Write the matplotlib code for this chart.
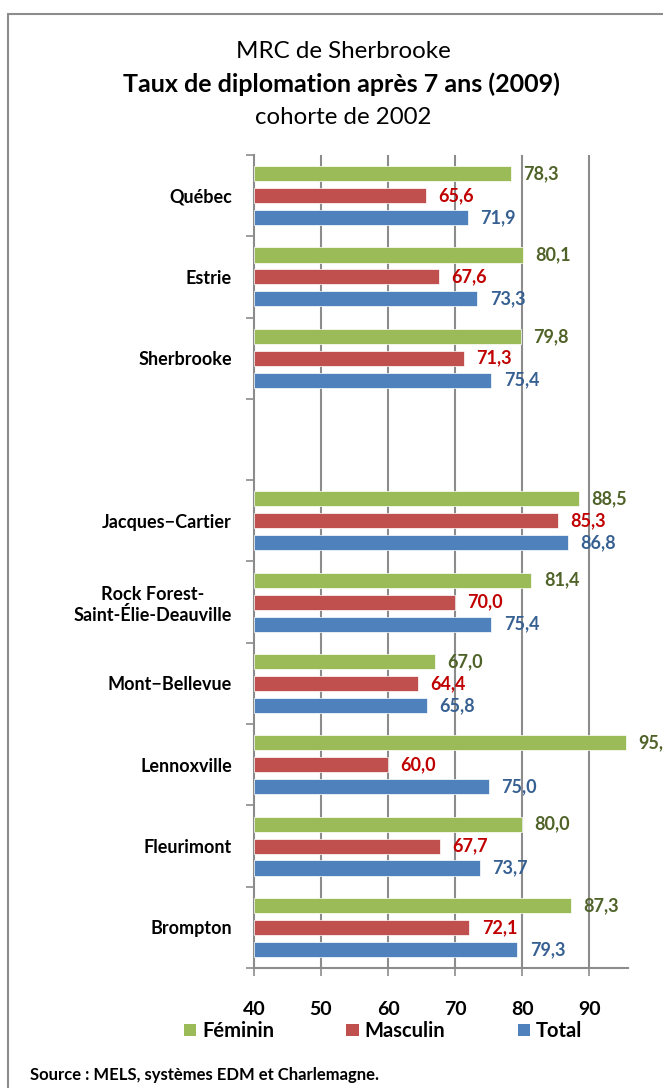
import matplotlib
matplotlib.use("Agg")
import matplotlib.pyplot as plt
from matplotlib.patches import Rectangle, Patch
import numpy as np

plt.rcParams['font.family'] = ['Lato', 'DejaVu Sans']

categories = ["Québec", "Estrie", "Sherbrooke", "",
              "Jacques−Cartier", "Rock Forest-\nSaint-Élie-Deauville",
              "Mont−Bellevue", "Lennoxville", "Fleurimont", "Brompton"]
feminin  = [78.3, 80.1, 79.8, None, 88.5, 81.4, 67.0, 95.5, 80.0, 87.3]
masculin = [65.6, 67.6, 71.3, None, 85.3, 70.0, 64.4, 60.0, 67.7, 72.1]
total    = [71.9, 73.3, 75.4, None, 86.8, 75.4, 65.8, 75.0, 73.7, 79.3]
series_names = ["Féminin", "Masculin", "Total"]
xticks = [40, 50, 60, 70, 80, 90]

bar_colors = ["#9BBB59", "#C0504D", "#4F81BD"]
label_colors = ["#4F6228", "#C00000", "#376092"]

W, H = 663, 1088
fig = plt.figure(figsize=(W/100, H/100), dpi=100)
fig.patch.set_facecolor("white")

# outer border
fig.patches.append(Rectangle((8/W, -0.05), 1.0, 1 - 14/H + 0.05,
                             transform=fig.transFigure, fill=False,
                             edgecolor="#8c8c8c", linewidth=1.5, zorder=0))

ax = fig.add_axes([254/W, 1 - 968/H, (628-254)/W, (968-155)/H])
xlim = (40, 95.8)
ax.set_xlim(*xlim)
ax.set_ylim(len(categories) - 0.5, -0.5)

offsets = [-0.27, 0.0, 0.27]
bh = 0.185
for si, vals in enumerate([feminin, masculin, total]):
    for i, v in enumerate(vals):
        if v is None:
            continue
        ax.barh(i + offsets[si], v - xlim[0], left=xlim[0], height=bh,
                color=bar_colors[si], edgecolor="white", linewidth=0.5,
                zorder=3, clip_on=False)
        ax.annotate(f"{v:.1f}".replace(".", ","), (v, i + offsets[si]),
                    xytext=(9, 0), textcoords="offset points",
                    ha="left", va="center", fontsize=13, fontweight="bold",
                    color=label_colors[si], annotation_clip=False)

# gridlines
ax.set_xticks(xticks)
ax.set_xticklabels([str(t) for t in xticks], fontsize=14, fontweight="bold")
for t in xticks[1:]:
    ax.axvline(t, color="#8c8c8c", linewidth=1.5, zorder=1)

ax.set_yticks(np.arange(len(categories)))
ax.set_yticklabels(categories, fontsize=13, fontweight="bold",
                   multialignment="center")
ax.tick_params(axis="y", which="major", length=0, pad=16)
ax.set_yticks(np.arange(-0.5, len(categories)), minor=True)
ax.tick_params(axis="y", which="minor", length=6, width=1.2, color="#8c8c8c")
ax.tick_params(axis="x", which="major", length=6, width=1.2, color="#8c8c8c",
               pad=18)

for s in ["top", "right"]:
    ax.spines[s].set_visible(False)
for s in ["left", "bottom"]:
    ax.spines[s].set_color("#8c8c8c")
    ax.spines[s].set_linewidth(1.5)

# titles
fig.text(343/W, 1 - 51/H, "MRC de Sherbrooke", ha="center", va="center",
         fontsize=17.4)
fig.text(341/W, 1 - 84/H, "Taux de diplomation après 7 ans (2009)",
         ha="center", va="center", fontsize=18, fontweight="bold")
fig.text(343/W, 1 - 117/H, "cohorte de 2002", ha="center", va="center",
         fontsize=17.3)

handles = [Patch(facecolor=c, edgecolor="none") for c in bar_colors]
leg = fig.legend(handles, series_names, loc="center", ncol=3,
                 bbox_to_anchor=(383/W, 1 - 1031/H), frameon=False,
                 prop={"size": 14.5, "weight": "bold"},
                 handlelength=0.6, handleheight=0.6, handletextpad=0.3,
                 columnspacing=3.6)

fig.text(30/W, 1 - 1075/H, "Source : MELS, systèmes EDM et Charlemagne.",
         ha="left", va="center", fontsize=12, fontweight="bold")

fig.savefig("out.png", dpi=100)
